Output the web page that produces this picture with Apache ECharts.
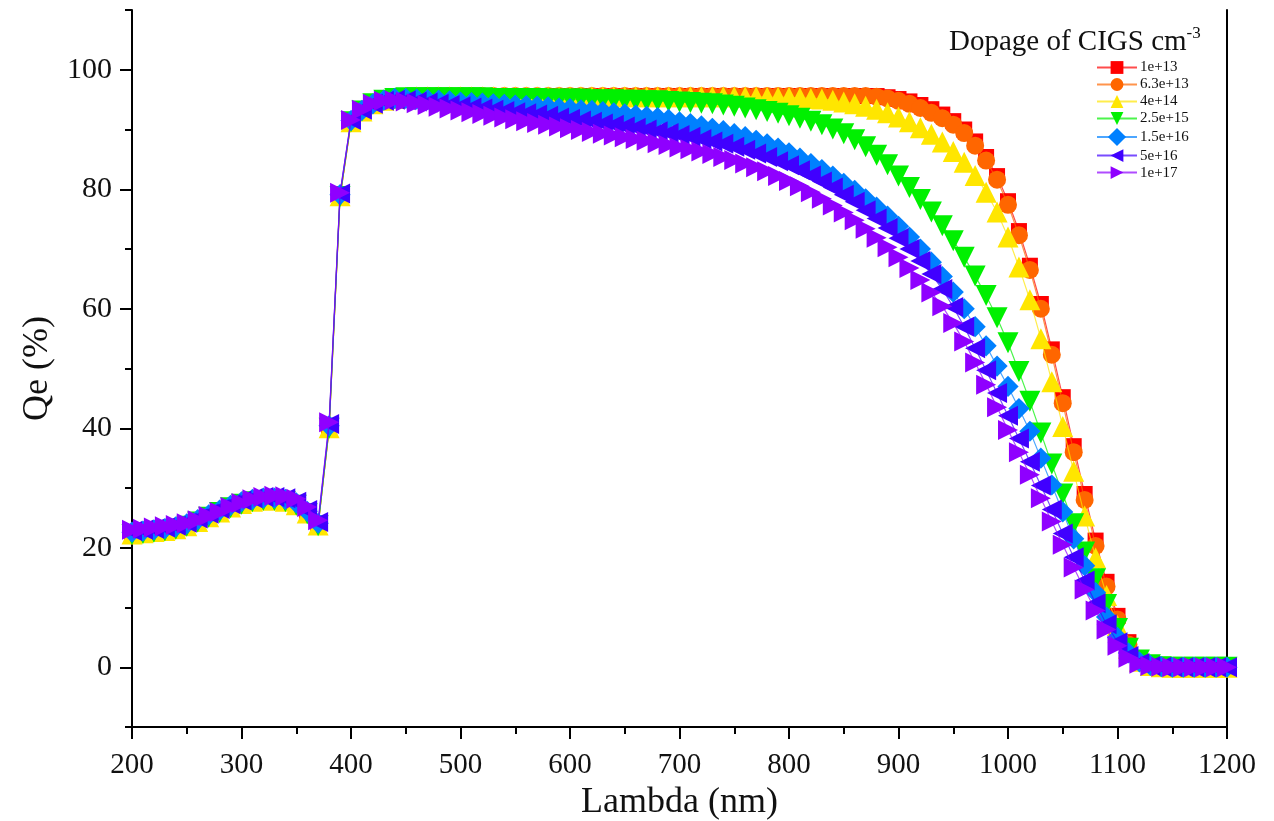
<!DOCTYPE html>
<html>
<head>
<meta charset="utf-8">
<script src="https://cdn.jsdelivr.net/npm/echarts@6/dist/echarts.min.js"></script>
<style>
  html, body { margin: 0; padding: 0; background: #fff; }
  #chart { width: 1274px; height: 821px; }
</style>
</head>
<body>
<div id="chart"></div>
<script>
// wavelength (nm)
const lambda = [
  200, 210, 220, 230, 240, 250, 260, 270, 280, 290,
  300, 310, 320, 330, 340, 350, 360, 370, 380, 390,
  400, 410, 420, 430, 440, 450, 460, 470, 480, 490,
  500, 510, 520, 530, 540, 550, 560, 570, 580, 590,
  600, 610, 620, 630, 640, 650, 660, 670, 680, 690,
  700, 710, 720, 730, 740, 750, 760, 770, 780, 790,
  800, 810, 820, 830, 840, 850, 860, 870, 880, 890,
  900, 910, 920, 930, 940, 950, 960, 970, 980, 990,
  1000, 1010, 1020, 1030, 1040, 1050, 1060, 1070, 1080, 1090,
  1100, 1110, 1120, 1130, 1140, 1150, 1160, 1170, 1180, 1190,
  1200
]

// Qe (%) per CIGS doping
const qe_1e13 = [
  22.2, 22.4, 22.6, 22.8, 23.1, 23.6, 24.3, 25.1, 25.9, 26.7,
  27.3, 27.7, 27.9, 27.9, 27.7, 27.1, 25.7, 23.7, 39.8, 78.6,
  91.1, 92.9, 94.2, 94.8, 95.2, 95.4, 95.5, 95.6, 95.6, 95.6,
  95.6, 95.6, 95.6, 95.6, 95.6, 95.6, 95.6, 95.6, 95.6, 95.6,
  95.6, 95.6, 95.6, 95.6, 95.6, 95.6, 95.6, 95.6, 95.6, 95.6,
  95.6, 95.6, 95.6, 95.6, 95.6, 95.6, 95.6, 95.6, 95.6, 95.6,
  95.6, 95.6, 95.6, 95.6, 95.6, 95.6, 95.6, 95.6, 95.6, 95.4,
  95.1, 94.7, 94.1, 93.4, 92.5, 91.4, 90.0, 88.0, 85.4, 82.2,
  78.0, 73.0, 67.2, 60.8, 53.2, 45.2, 37.0, 29.0, 21.2, 14.3,
  8.6, 4.2, 1.5, 0.5, 0.1, 0, 0, 0, 0, 0,
  0
]
const qe_63e13 = [
  22.3, 22.5, 22.7, 22.9, 23.2, 23.7, 24.4, 25.2, 26.0, 26.8,
  27.4, 27.8, 28.0, 28.0, 27.8, 27.2, 25.8, 23.8, 40.0, 78.8,
  91.2, 93.0, 94.2, 94.8, 95.2, 95.4, 95.5, 95.6, 95.6, 95.6,
  95.6, 95.6, 95.6, 95.6, 95.6, 95.6, 95.6, 95.6, 95.6, 95.6,
  95.6, 95.6, 95.6, 95.6, 95.6, 95.6, 95.6, 95.6, 95.6, 95.6,
  95.6, 95.6, 95.6, 95.6, 95.6, 95.6, 95.6, 95.6, 95.6, 95.6,
  95.6, 95.6, 95.6, 95.6, 95.6, 95.6, 95.6, 95.6, 95.5, 95.2,
  94.8, 94.3, 93.6, 92.8, 91.9, 90.8, 89.4, 87.3, 84.8, 81.6,
  77.4, 72.3, 66.5, 60.0, 52.3, 44.2, 36.0, 28.0, 20.3, 13.5,
  8.0, 3.8, 1.3, 0.4, 0.1, 0, 0, 0, 0, 0,
  0
]
const qe_4e14 = [
  22.3, 22.5, 22.7, 22.9, 23.2, 23.7, 24.4, 25.2, 26.0, 26.8,
  27.4, 27.8, 28.0, 28.0, 27.8, 27.2, 25.8, 23.8, 40.1, 78.9,
  91.3, 93.1, 94.3, 94.9, 95.2, 95.4, 95.5, 95.5, 95.5, 95.5,
  95.5, 95.5, 95.5, 95.5, 95.5, 95.5, 95.5, 95.5, 95.5, 95.5,
  95.5, 95.5, 95.5, 95.5, 95.5, 95.5, 95.5, 95.5, 95.5, 95.5,
  95.5, 95.5, 95.5, 95.5, 95.5, 95.5, 95.5, 95.5, 95.4, 95.4,
  95.4, 95.3, 95.2, 95.1, 94.9, 94.6, 94.3, 93.9, 93.4, 92.8,
  92.1, 91.3, 90.3, 89.2, 87.9, 86.3, 84.5, 82.3, 79.5, 76.2,
  72.0, 67.0, 61.5, 55.0, 47.8, 40.3, 32.8, 25.3, 18.3, 12.0,
  7.0, 3.2, 1.0, 0.3, 0.1, 0, 0, 0, 0, 0,
  0
]
const qe_25e15 = [
  22.2, 22.4, 22.6, 22.8, 23.1, 23.6, 24.3, 25.1, 25.9, 26.7,
  27.3, 27.7, 27.9, 27.9, 27.7, 27.1, 25.7, 23.7, 40.0, 78.8,
  91.3, 93.1, 94.3, 94.9, 95.2, 95.3, 95.3, 95.3, 95.3, 95.3,
  95.3, 95.3, 95.3, 95.2, 95.2, 95.2, 95.2, 95.2, 95.1, 95.1,
  95.1, 95.1, 95.0, 95.0, 95.0, 94.9, 94.9, 94.8, 94.8, 94.7,
  94.6, 94.5, 94.4, 94.3, 94.1, 93.9, 93.6, 93.3, 93.0, 92.7,
  92.3, 91.9, 91.4, 90.8, 90.1, 89.3, 88.3, 87.1, 85.7, 84.1,
  82.2, 80.3, 78.3, 76.2, 73.9, 71.4, 68.6, 65.5, 62.2, 58.5,
  54.3, 49.5, 44.5, 39.2, 34.0, 29.0, 24.0, 19.3, 14.8, 10.5,
  6.5, 3.2, 1.2, 0.4, 0.1, 0, 0, 0, 0, 0,
  0
]
const qe_15e16 = [
  22.6, 22.8, 23.0, 23.2, 23.5, 24.0, 24.7, 25.5, 26.3, 27.1,
  27.7, 28.1, 28.3, 28.3, 28.1, 27.5, 26.1, 24.1, 40.4, 79.1,
  91.5, 93.2, 94.3, 94.9, 95.2, 95.2, 95.1, 95.0, 94.9, 94.8,
  94.6, 94.5, 94.4, 94.3, 94.2, 94.1, 94.0, 93.9, 93.8, 93.6,
  93.5, 93.3, 93.2, 93.0, 92.8, 92.6, 92.4, 92.2, 92.0, 91.7,
  91.3, 91.0, 90.6, 90.2, 89.8, 89.3, 88.8, 88.2, 87.6, 86.9,
  86.1, 85.2, 84.3, 83.3, 82.2, 81.0, 79.8, 78.4, 77.0, 75.5,
  73.8, 72.0, 70.0, 67.8, 65.4, 62.8, 60.0, 57.0, 53.8, 50.4,
  47.0, 43.3, 39.5, 35.0, 30.5, 26.0, 21.5, 17.0, 12.5, 8.4,
  5.0, 2.4, 0.9, 0.3, 0.1, 0, 0, 0, 0, 0,
  0
]
const qe_5e16 = [
  22.8, 23.0, 23.2, 23.4, 23.7, 24.2, 24.9, 25.7, 26.5, 27.3,
  27.9, 28.3, 28.5, 28.5, 28.3, 27.7, 26.3, 24.3, 40.7, 79.3,
  91.6, 93.3, 94.3, 94.8, 95.0, 94.9, 94.7, 94.5, 94.3, 94.1,
  93.9, 93.7, 93.5, 93.3, 93.1, 92.9, 92.7, 92.5, 92.3, 92.0,
  91.8, 91.5, 91.3, 91.0, 90.8, 90.5, 90.3, 90.0, 89.7, 89.4,
  89.1, 88.8, 88.4, 88.0, 87.6, 87.1, 86.6, 86.0, 85.4, 84.7,
  84.0, 83.2, 82.3, 81.3, 80.3, 79.1, 77.9, 76.5, 75.1, 73.5,
  71.8, 70.0, 68.0, 65.8, 63.3, 60.3, 57.0, 53.4, 49.7, 45.9,
  42.1, 38.3, 34.4, 30.4, 26.4, 22.4, 18.4, 14.5, 10.7, 7.2,
  4.2, 1.9, 0.7, 0.2, 0.1, 0, 0, 0, 0, 0,
  0
]
const qe_1e17 = [
  23.0, 23.2, 23.4, 23.6, 23.8, 24.1, 24.6, 25.3, 26.0, 26.8,
  27.5, 28.1, 28.5, 28.7, 28.6, 28.2, 26.8, 24.6, 41.0, 79.4,
  91.6, 93.3, 94.3, 94.8, 94.9, 94.7, 94.4, 94.1, 93.8, 93.5,
  93.2, 92.9, 92.6, 92.3, 92.0, 91.7, 91.4, 91.1, 90.8, 90.5,
  90.2, 89.9, 89.6, 89.3, 89.0, 88.7, 88.4, 88.1, 87.7, 87.4,
  87.0, 86.7, 86.3, 85.9, 85.4, 84.9, 84.3, 83.7, 83.0, 82.2,
  81.4, 80.5, 79.5, 78.4, 77.3, 76.1, 74.8, 73.4, 71.9, 70.3,
  68.6, 66.8, 64.8, 62.7, 60.4, 57.6, 54.5, 51.0, 47.3, 43.5,
  39.7, 36.0, 32.2, 28.3, 24.4, 20.5, 16.7, 13.0, 9.5, 6.3,
  3.6, 1.6, 0.6, 0.2, 0.1, 0, 0, 0, 0, 0,
  0
]

const seriesNames = ['1e+13', '6.3e+13', '4e+14', '2.5e+15', '1.5e+16', '5e+16', '1e+17']
const seriesValues = [qe_1e13, qe_63e13, qe_4e14, qe_25e15, qe_15e16, qe_5e16, qe_1e17]
const seriesColors = ['#ff0000', '#ff6600', '#ffe600', '#00f000', '#0080ff', '#4000ff', '#8f00ff']
// marker shape + rotation (triangle points up by default)
const seriesSymbols = ['rect', 'circle', 'triangle', 'triangle', 'rect', 'triangle', 'triangle']
const seriesRotate = [0, 0, 0, 180, 45, 90, -90]
const seriesSize = [16, 18, 21, 21, 15, 20, 20]

const xMajor = [200, 300, 400, 500, 600, 700, 800, 900, 1000, 1100, 1200]
const xMinor = [250, 350, 450, 550, 650, 750, 850, 950, 1050, 1150]
const yMajor = [0, 20, 40, 60, 80, 100]
const yMinor = [-10, 10, 30, 50, 70, 90, 110]

const serif = '"Liberation Serif", "DejaVu Serif", serif'
const chart = echarts.init(document.getElementById('chart'))

const series = seriesNames.map((name, i) => ({
  name: name,
  type: 'line',
  data: lambda.map((x, j) => [x, seriesValues[i][j]]),
  symbol: seriesSymbols[i],
  symbolRotate: seriesRotate[i],
  symbolSize: seriesSize[i],
  showAllSymbol: true,
  color: seriesColors[i],
  itemStyle: { color: seriesColors[i] },
  lineStyle: { color: seriesColors[i], width: 1.2, opacity: 0.7 },
  animation: false,
  z: 2 + i
}))

const axisCommon = {
  type: 'value',
  splitLine: { show: false },
  axisLine: { show: true, onZero: false, lineStyle: { color: '#000', width: 2 } }
}

chart.setOption({
  backgroundColor: '#fff',
  animation: false,
  title: {
    text: '{a|Dopage of CIGS cm}{b|-3}',
    left: 944,
    top: 20,
    textStyle: {
      fontWeight: 'normal',
      rich: {
        a: { fontFamily: serif, fontSize: 29, fontWeight: 'normal', color: '#111', verticalAlign: 'bottom', lineHeight: 32 },
        b: { fontFamily: serif, fontSize: 17, fontWeight: 'normal', color: '#111', verticalAlign: 'top', lineHeight: 32, padding: [0, 0, 14, 0] }
      }
    }
  },
  legend: {
    data: seriesNames,
    orient: 'vertical',
    left: 1091,
    top: 55,
    itemWidth: 40,
    itemHeight: 16,
    itemGap: 2,
    textStyle: { fontFamily: serif, fontSize: 15, color: '#111', padding: [0, 0, 0, -2] }
  },
  grid: { left: 132, right: 47, top: 10, bottom: 94, outerBoundsMode: 'none' },
  xAxis: [
    Object.assign({}, axisCommon, {
      min: 200, max: 1200,
      name: 'Lambda (nm)',
      nameLocation: 'middle',
      nameGap: 55,
      nameTextStyle: { fontFamily: serif, fontSize: 36, color: '#111' },
      axisTick: { show: true, length: 12, customValues: xMajor, lineStyle: { color: '#000', width: 2 } },
      axisLabel: { customValues: xMajor, margin: 24, fontFamily: serif, fontSize: 29, color: '#111', formatter: v => String(v) }
    }),
    Object.assign({}, axisCommon, {
      min: 200, max: 1200,
      position: 'bottom',
      axisLine: { show: false, onZero: false },
      axisTick: { show: true, length: 7, customValues: xMinor, lineStyle: { color: '#000', width: 2 } },
      axisLabel: { show: false }
    })
  ],
  yAxis: [
    Object.assign({}, axisCommon, {
      min: -10, max: 110,
      name: 'Qe (%)',
      nameLocation: 'middle',
      nameGap: 76,
      nameTextStyle: { fontFamily: serif, fontSize: 36, color: '#111' },
      axisTick: { show: true, length: 12, customValues: yMajor, lineStyle: { color: '#000', width: 2 } },
      axisLabel: { customValues: yMajor, margin: 20, fontFamily: serif, fontSize: 30, color: '#111' }
    }),
    Object.assign({}, axisCommon, {
      min: -10, max: 110,
      position: 'left',
      axisLine: { show: false, onZero: false },
      axisTick: { show: true, length: 7, customValues: yMinor, lineStyle: { color: '#000', width: 2 } },
      axisLabel: { show: false }
    }),
    Object.assign({}, axisCommon, {
      min: -10, max: 110,
      position: 'right',
      axisTick: { show: false },
      axisLabel: { show: false }
    })
  ],
  series: series
})
</script>
</body>
</html>
